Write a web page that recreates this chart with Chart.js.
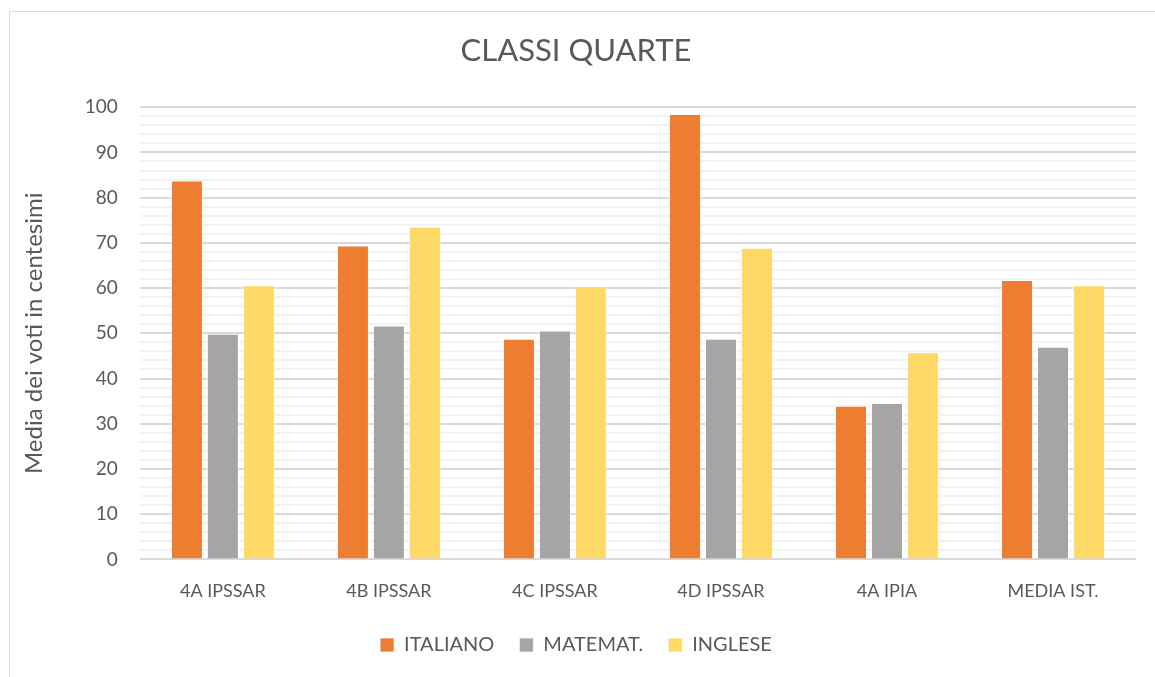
<!DOCTYPE html>
<html>
<head>
<meta charset="utf-8">
<script src="https://cdn.jsdelivr.net/npm/chart.js@4"></script>
<style>
  html, body { margin: 0; padding: 0; background: #fff; }
  #frame { position: absolute; left: 9px; top: 11px; width: 1160px; height: 700px; border: 1px solid #d9d9d9; box-sizing: border-box; }
  #wrap { position: absolute; left: 0; top: 0; width: 1155px; height: 677px; }
</style>
</head>
<body>
<div id="frame"></div>
<div id="wrap"><canvas id="c"></canvas></div>
<script>
const classi = ['4A IPSSAR', '4B IPSSAR', '4C IPSSAR', '4D IPSSAR', '4A IPIA', 'MEDIA IST.'];
const italiano = [83.8, 69.4, 48.8, 98.5, 34.0, 61.8];
const matemat = [49.9, 51.7, 50.6, 48.8, 34.6, 47.0];
const inglese = [60.6, 73.6, 60.4, 68.9, 45.8, 60.6];

const txt = '#595959';
const font = 'Lato, "Open Sans", sans-serif';

function ds(label, data, color) {
    return { label, data, backgroundColor: color, borderColor: 'rgba(255,255,255,0.7)', borderWidth: 1,
             categoryPercentage: 0.65, barPercentage: 0.89 };
}

new Chart(document.getElementById('c'), {
    type: 'bar',
    data: { labels: classi, datasets: [
        ds('ITALIANO', italiano, '#ed7d31'),
        ds('MATEMAT.', matemat, '#a5a5a5'),
        ds('INGLESE', inglese, '#ffd966')
    ] },
    options: {
        responsive: true, maintainAspectRatio: false, animation: false,
        layout: { padding: { left: 16, right: 19, top: 28, bottom: 12 } },
        scales: {
            x: {
                grid: { display: false }, border: { display: false },
                ticks: { color: txt, font: { family: font, size: 18 }, padding: 13 },
                afterFit: s => { s.height -= 5; }
            },
            y: {
                min: 0, max: 100,
                border: { display: false },
                grid: { drawTicks: false, lineWidth: 2,
                        color: c => c.tick.value % 10 === 0 ? '#d9d9d9' : '#f2f2f2' },
                ticks: { stepSize: 2, autoSkip: false, color: txt, padding: 22,
                         font: { family: font, size: 19 },
                         callback: v => v % 10 === 0 ? v : '' },
                title: { display: true, text: 'Media dei voti in centesimi', color: txt,
                         font: { family: font, size: 24 }, padding: { top: 4, bottom: 14 } }
            }
        },
        plugins: {
            title: { display: true, text: 'CLASSI QUARTE', color: txt,
                     font: { family: font, size: 31, weight: 'normal' }, padding: { top: 4, bottom: 38 } },
            legend: { position: 'bottom',
                      labels: { color: txt, boxWidth: 14, boxHeight: 14, padding: 25,
                                font: { family: font, size: 20 } } },
            tooltip: { enabled: false }
        }
    }
});
</script>
</body>
</html>
